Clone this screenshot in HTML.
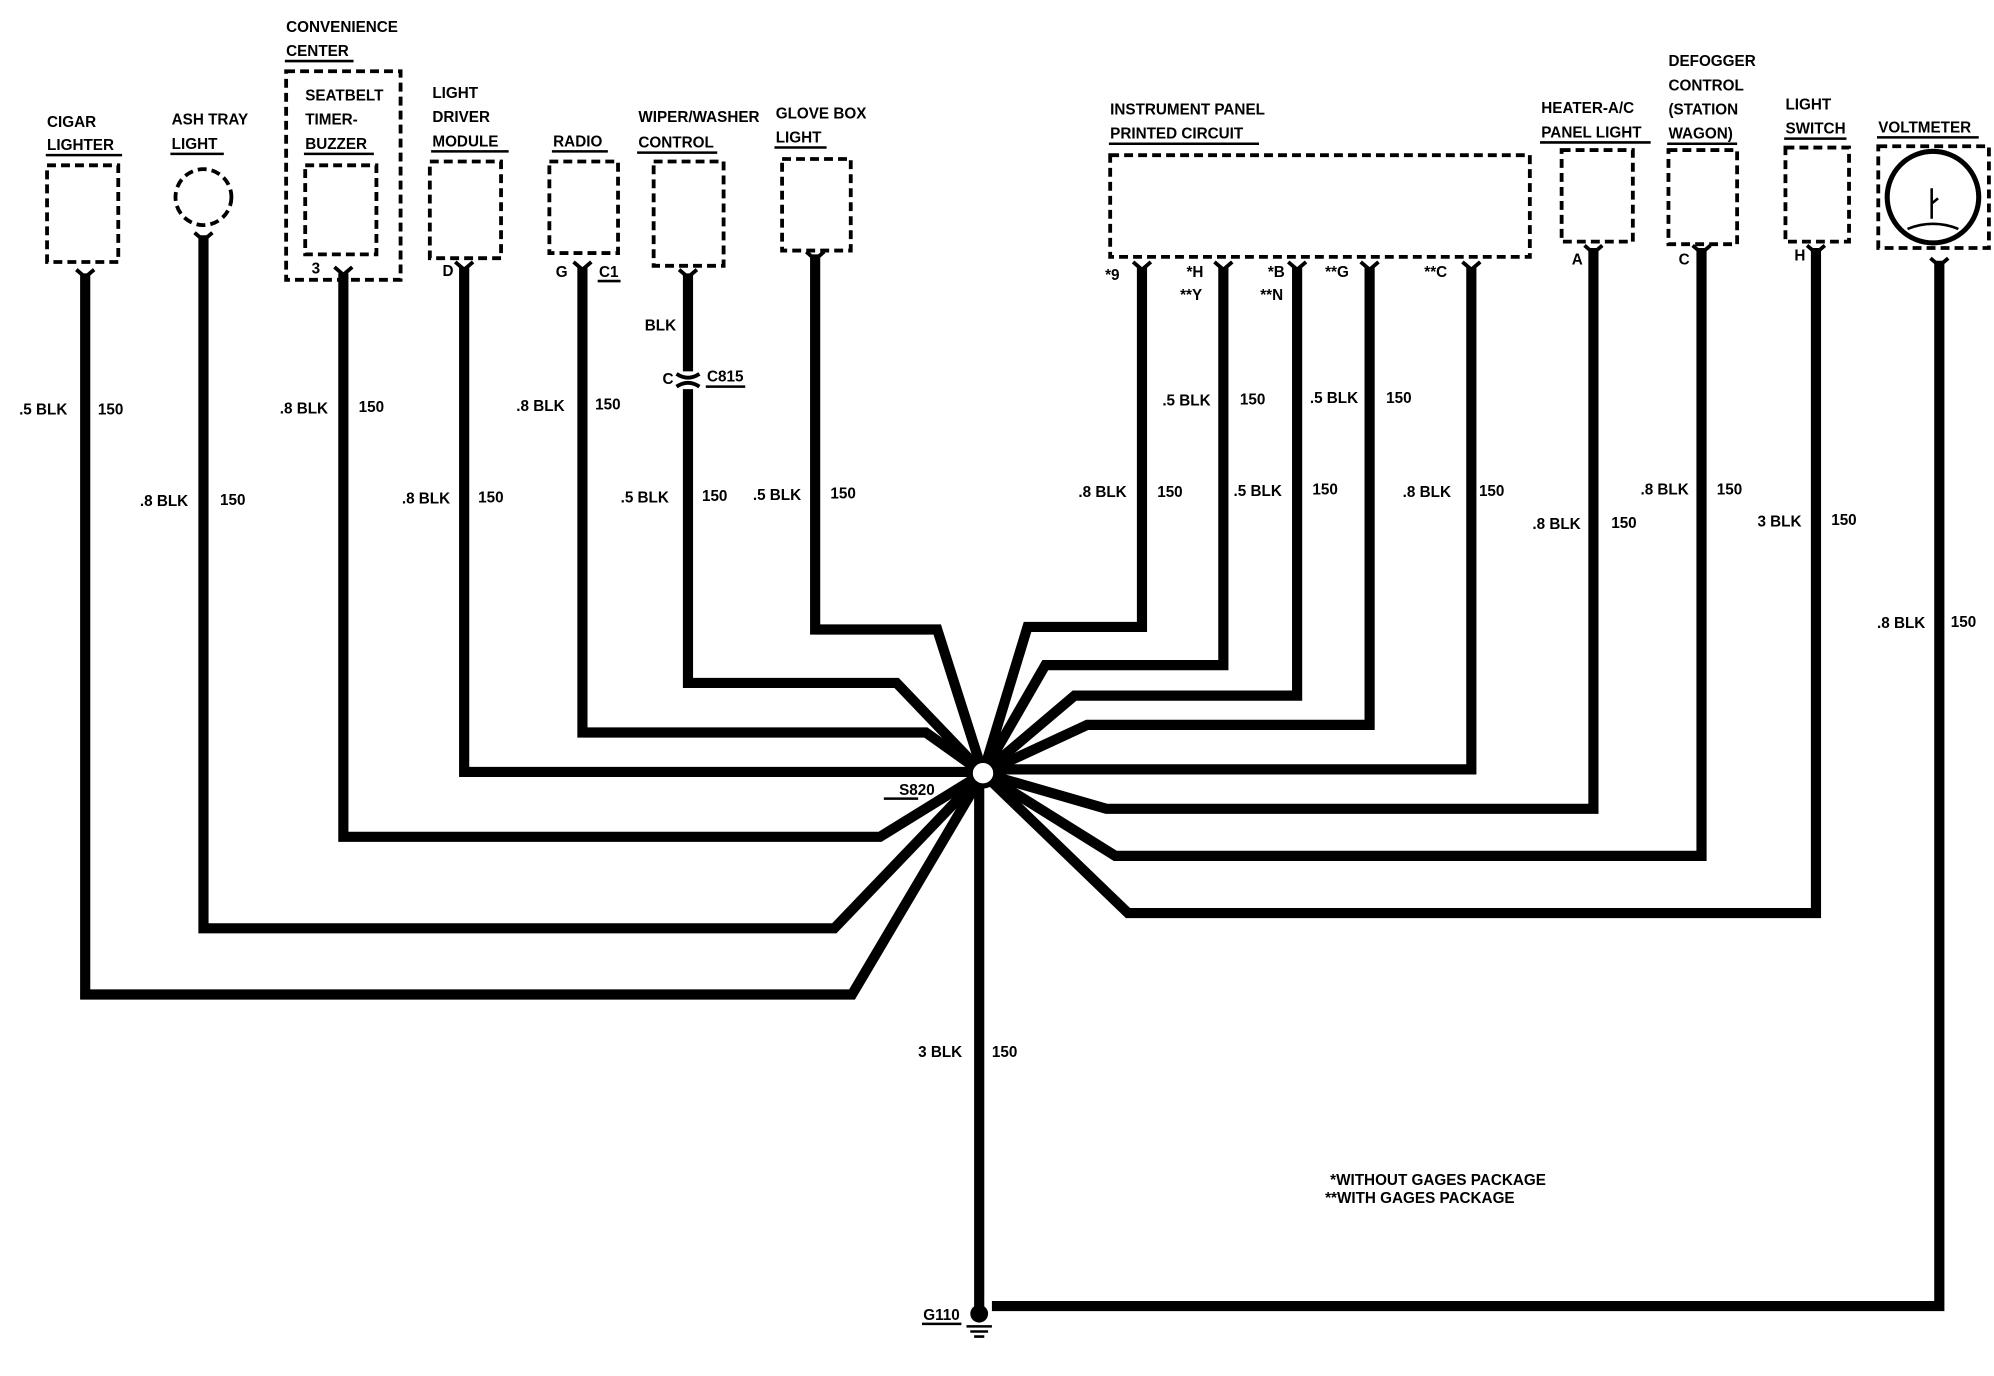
<!DOCTYPE html>
<html><head><meta charset="utf-8"><style>
html,body{margin:0;padding:0;background:#fff}
svg{display:block}
text{font-family:"Liberation Sans",sans-serif;font-weight:bold;font-size:12px;fill:#000}
.d{fill:none;stroke:#000;stroke-width:3;stroke-dasharray:7 4}
.w{fill:none;stroke:#000;stroke-width:8;stroke-linejoin:miter}
.u{stroke:#000;stroke-width:2}
</style></head><body>
<svg width="1994" height="1376" viewBox="0 0 1568 1082" xmlns="http://www.w3.org/2000/svg">
<rect width="1568" height="1082" fill="#fff"/>
<!-- wires -->
<g class="w">
<path d="M67 215 V782 H670 L773 608"/>
<path d="M160 185 V730 H656 L773 608"/>
<path d="M270 215 V658 H692 L773 608"/>
<path d="M365 210 V607 H773"/>
<path d="M458 210 V576 H728 L773 608"/>
<path d="M541 215 V292 M541 306 V537 H705 L773 608"/>
<path d="M641 200 V495 H737 L773 608"/>
<path d="M898 210 V493 H808 L773 608"/>
<path d="M962 210 V523 H822 L773 608"/>
<path d="M1020 210 V547 H845 L773 608"/>
<path d="M1077 210 V570 H855 L773 608"/>
<path d="M1157 210 V605 H773"/>
<path d="M1253 195 V636 H870 L773 608"/>
<path d="M1338 195 V673 H877 L773 608"/>
<path d="M1428 195 V718 H887 L773 608"/>
<path d="M1525 205 V1027 H780"/>
<path d="M770 608 V1030"/>
</g>
<circle cx="773" cy="608" r="10" fill="#fff" stroke="#000" stroke-width="4"/>
<circle cx="770" cy="1033" r="7" fill="#000"/>
<path d="M760 1043 H780 M763 1047 H777 M766 1051 H774" stroke="#000" stroke-width="2"/>
<!-- connector pins -->
<g fill="none" stroke="#000" stroke-width="3">
<path d="M60 212 L67 218 L74 212"/><path d="M153 183 L160 189 L167 183"/>
<path d="M263 210 L270 216 L277 210"/><path d="M358 206 L365 212 L372 206"/>
<path d="M451 206 L458 212 L465 206"/><path d="M534 212 L541 218 L548 212"/>
<path d="M634 198 L641 204 L648 198"/><path d="M891 206 L898 212 L905 206"/>
<path d="M955 206 L962 212 L969 206"/><path d="M1013 206 L1020 212 L1027 206"/>
<path d="M1070 206 L1077 212 L1084 206"/><path d="M1150 206 L1157 212 L1164 206"/>
<path d="M1246 193 L1253 199 L1260 193"/><path d="M1331 193 L1338 199 L1345 193"/>
<path d="M1421 193 L1428 199 L1435 193"/><path d="M1518 203 L1525 209 L1532 203"/>
<path d="M532 294 Q541 300 550 294 M532 304 Q541 298 550 304"/>
</g>
<!-- boxes -->
<rect class="d" x="37" y="130" width="56" height="76"/>
<circle class="d" cx="160" cy="155" r="22"/>
<rect class="d" x="225" y="56" width="90" height="164"/>
<rect class="d" x="240" y="130" width="56" height="70"/>
<rect class="d" x="338" y="127" width="56" height="76"/>
<rect class="d" x="432" y="127" width="54" height="72"/>
<rect class="d" x="514" y="127" width="55" height="82"/>
<rect class="d" x="615" y="125" width="54" height="72"/>
<rect class="d" x="873" y="122" width="330" height="80"/>
<rect class="d" x="1228" y="118" width="56" height="72"/>
<rect class="d" x="1312" y="118" width="54" height="74"/>
<rect class="d" x="1404" y="116" width="50" height="74"/>
<rect class="d" x="1477" y="115" width="87" height="80"/>
<circle cx="1520" cy="155" r="36" fill="none" stroke="#000" stroke-width="4"/>
<path d="M1500 180 Q1520 172 1540 180 M1519 148 V172 M1519 160 L1524 156" stroke="#000" stroke-width="2" fill="none"/>
<!-- labels -->
<text x="37" y="100">CIGAR</text><text x="37" y="118">LIGHTER</text><line class="u" x1="36" y1="122" x2="96" y2="122"/>
<text x="135" y="98">ASH TRAY</text><text x="135" y="117">LIGHT</text><line class="u" x1="134" y1="121" x2="176" y2="121"/>
<text x="225" y="25">CONVENIENCE</text><text x="225" y="44">CENTER</text><line class="u" x1="224" y1="48" x2="278" y2="48"/>
<text x="240" y="79">SEATBELT</text><text x="240" y="98">TIMER-</text><text x="240" y="117">BUZZER</text><line class="u" x1="239" y1="121" x2="294" y2="121"/>
<text x="340" y="77">LIGHT</text><text x="340" y="96">DRIVER</text><text x="340" y="115">MODULE</text><line class="u" x1="339" y1="119" x2="400" y2="119"/>
<text x="435" y="115">RADIO</text><line class="u" x1="434" y1="119" x2="478" y2="119"/>
<text x="502" y="96">WIPER/WASHER</text><text x="502" y="116">CONTROL</text><line class="u" x1="501" y1="120" x2="564" y2="120"/>
<text x="610" y="93">GLOVE BOX</text><text x="610" y="112">LIGHT</text><line class="u" x1="609" y1="116" x2="650" y2="116"/>
<text x="873" y="90">INSTRUMENT PANEL</text><text x="873" y="109">PRINTED CIRCUIT</text><line class="u" x1="872" y1="113" x2="990" y2="113"/>
<text x="1212" y="89">HEATER-A/C</text><text x="1212" y="108">PANEL LIGHT</text><line class="u" x1="1211" y1="112" x2="1298" y2="112"/>
<text x="1312" y="52">DEFOGGER</text><text x="1312" y="71">CONTROL</text><text x="1312" y="90">(STATION</text><text x="1312" y="109">WAGON)</text><line class="u" x1="1311" y1="113" x2="1366" y2="113"/>
<text x="1404" y="86">LIGHT</text><text x="1404" y="105">SWITCH</text><line class="u" x1="1403" y1="109" x2="1452" y2="109"/>
<text x="1477" y="104">VOLTMETER</text><line class="u" x1="1476" y1="108" x2="1556" y2="108"/>
<!-- pin labels -->
<text x="245" y="215" font-size="10">3</text><text x="348" y="217" font-size="10">D</text>
<text x="437" y="218" font-size="10">G</text><text x="471" y="218" font-size="11">C1</text><line class="u" x1="470" y1="221" x2="488" y2="221"/>
<text x="507" y="260" font-size="11">BLK</text><text x="521" y="302" font-size="11">C</text>
<text x="556" y="300" font-size="11">C815</text><line class="u" x1="555" y1="304" x2="586" y2="304"/>
<text x="869" y="220" font-size="10">*9</text><text x="933" y="218" font-size="10">*H</text><text x="928" y="236" font-size="10">**Y</text>
<text x="997" y="218" font-size="10">*B</text><text x="991" y="236" font-size="10">**N</text>
<text x="1042" y="218" font-size="10">**G</text><text x="1120" y="218" font-size="10">**C</text>
<text x="1236" y="208" font-size="10">A</text><text x="1320" y="208" font-size="10">C</text><text x="1411" y="205" font-size="10">H</text>
<text x="707" y="625" font-size="11">S820</text><line class="u" x1="695" y1="628" x2="722" y2="628"/>
<text x="726" y="1038" font-size="11">G110</text><line class="u" x1="725" y1="1041" x2="756" y2="1041"/>
<!-- wire labels -->
<g font-size="11">
<text x="15" y="326">.5 BLK</text><text x="77" y="326">150</text>
<text x="110" y="398">.8 BLK</text><text x="173" y="397">150</text>
<text x="220" y="325">.8 BLK</text><text x="282" y="324">150</text>
<text x="316" y="396">.8 BLK</text><text x="376" y="395">150</text>
<text x="406" y="323">.8 BLK</text><text x="468" y="322">150</text>
<text x="488" y="395">.5 BLK</text><text x="552" y="394">150</text>
<text x="592" y="393">.5 BLK</text><text x="653" y="392">150</text>
<text x="848" y="391">.8 BLK</text><text x="910" y="391">150</text>
<text x="914" y="319">.5 BLK</text><text x="975" y="318">150</text>
<text x="970" y="390">.5 BLK</text><text x="1032" y="389">150</text>
<text x="1030" y="317">.5 BLK</text><text x="1090" y="317">150</text>
<text x="1103" y="391">.8 BLK</text><text x="1163" y="390">150</text>
<text x="1205" y="416">.8 BLK</text><text x="1267" y="415">150</text>
<text x="1290" y="389">.8 BLK</text><text x="1350" y="389">150</text>
<text x="1382" y="414">3 BLK</text><text x="1440" y="413">150</text>
<text x="1476" y="494">.8 BLK</text><text x="1534" y="493">150</text>
<text x="722" y="831">3 BLK</text><text x="780" y="831">150</text>
<text x="1046" y="932">*WITHOUT GAGES PACKAGE</text>
<text x="1042" y="946">**WITH GAGES PACKAGE</text>
</g>
</svg>
</body></html>
